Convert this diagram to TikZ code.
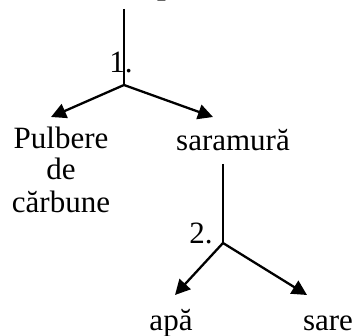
\documentclass[tikz,border=0pt]{standalone}
\usepackage{fontspec}
\setmainfont{Liberation Serif}
\usetikzlibrary{arrows.meta}
\begin{document}
\begin{tikzpicture}[x=1pt,y=1pt,
  lbl/.style={font=\fontsize{31}{31}\selectfont, inner sep=0pt, anchor=base},
  flow/.style={line width=2.3pt},
  branch/.style={line width=2.3pt, -{Triangle[length=15pt,width=15pt]}}]
\useasboundingbox (0,0) rectangle (356,335);
% heading, mostly above the page
\node[lbl, font=\fontsize{31}{31}\selectfont\bfseries, anchor=base west] (title) at (157,340.5) {p};
% first separation
\coordinate (top1) at (124,326);
\coordinate (j1) at (124,250);
\node[lbl] (s1) at (121,262) {1.};
\node[lbl] (pulb1) at (61,186) {Pulbere};
\node[lbl] (pulb2) at (61,155) {de};
\node[lbl] (pulb3) at (61,123) {cărbune};
\node[lbl] (sara) at (233,184) {saramură};
\coordinate (t1l) at (51,218);
\coordinate (t1r) at (213,218);
\draw[flow] (top1) -- (j1);
\draw[branch] (j1) -- (t1l);
\draw[branch] (j1) -- (t1r);
% second separation
\coordinate (top2) at (223,171);
\coordinate (j2) at (223,92);
\node[lbl] (s2) at (201,92) {2.};
\draw[flow] (top2) -- (j2);
\node[lbl] (apa) at (171,5) {apă};
\node[lbl] (sare) at (328,5) {sare};
\coordinate (t2l) at (175,40);
\coordinate (t2r) at (307,40);
\draw[branch] (j2) -- (t2l);
\draw[branch] (j2) -- (t2r);
\end{tikzpicture}
\end{document}
